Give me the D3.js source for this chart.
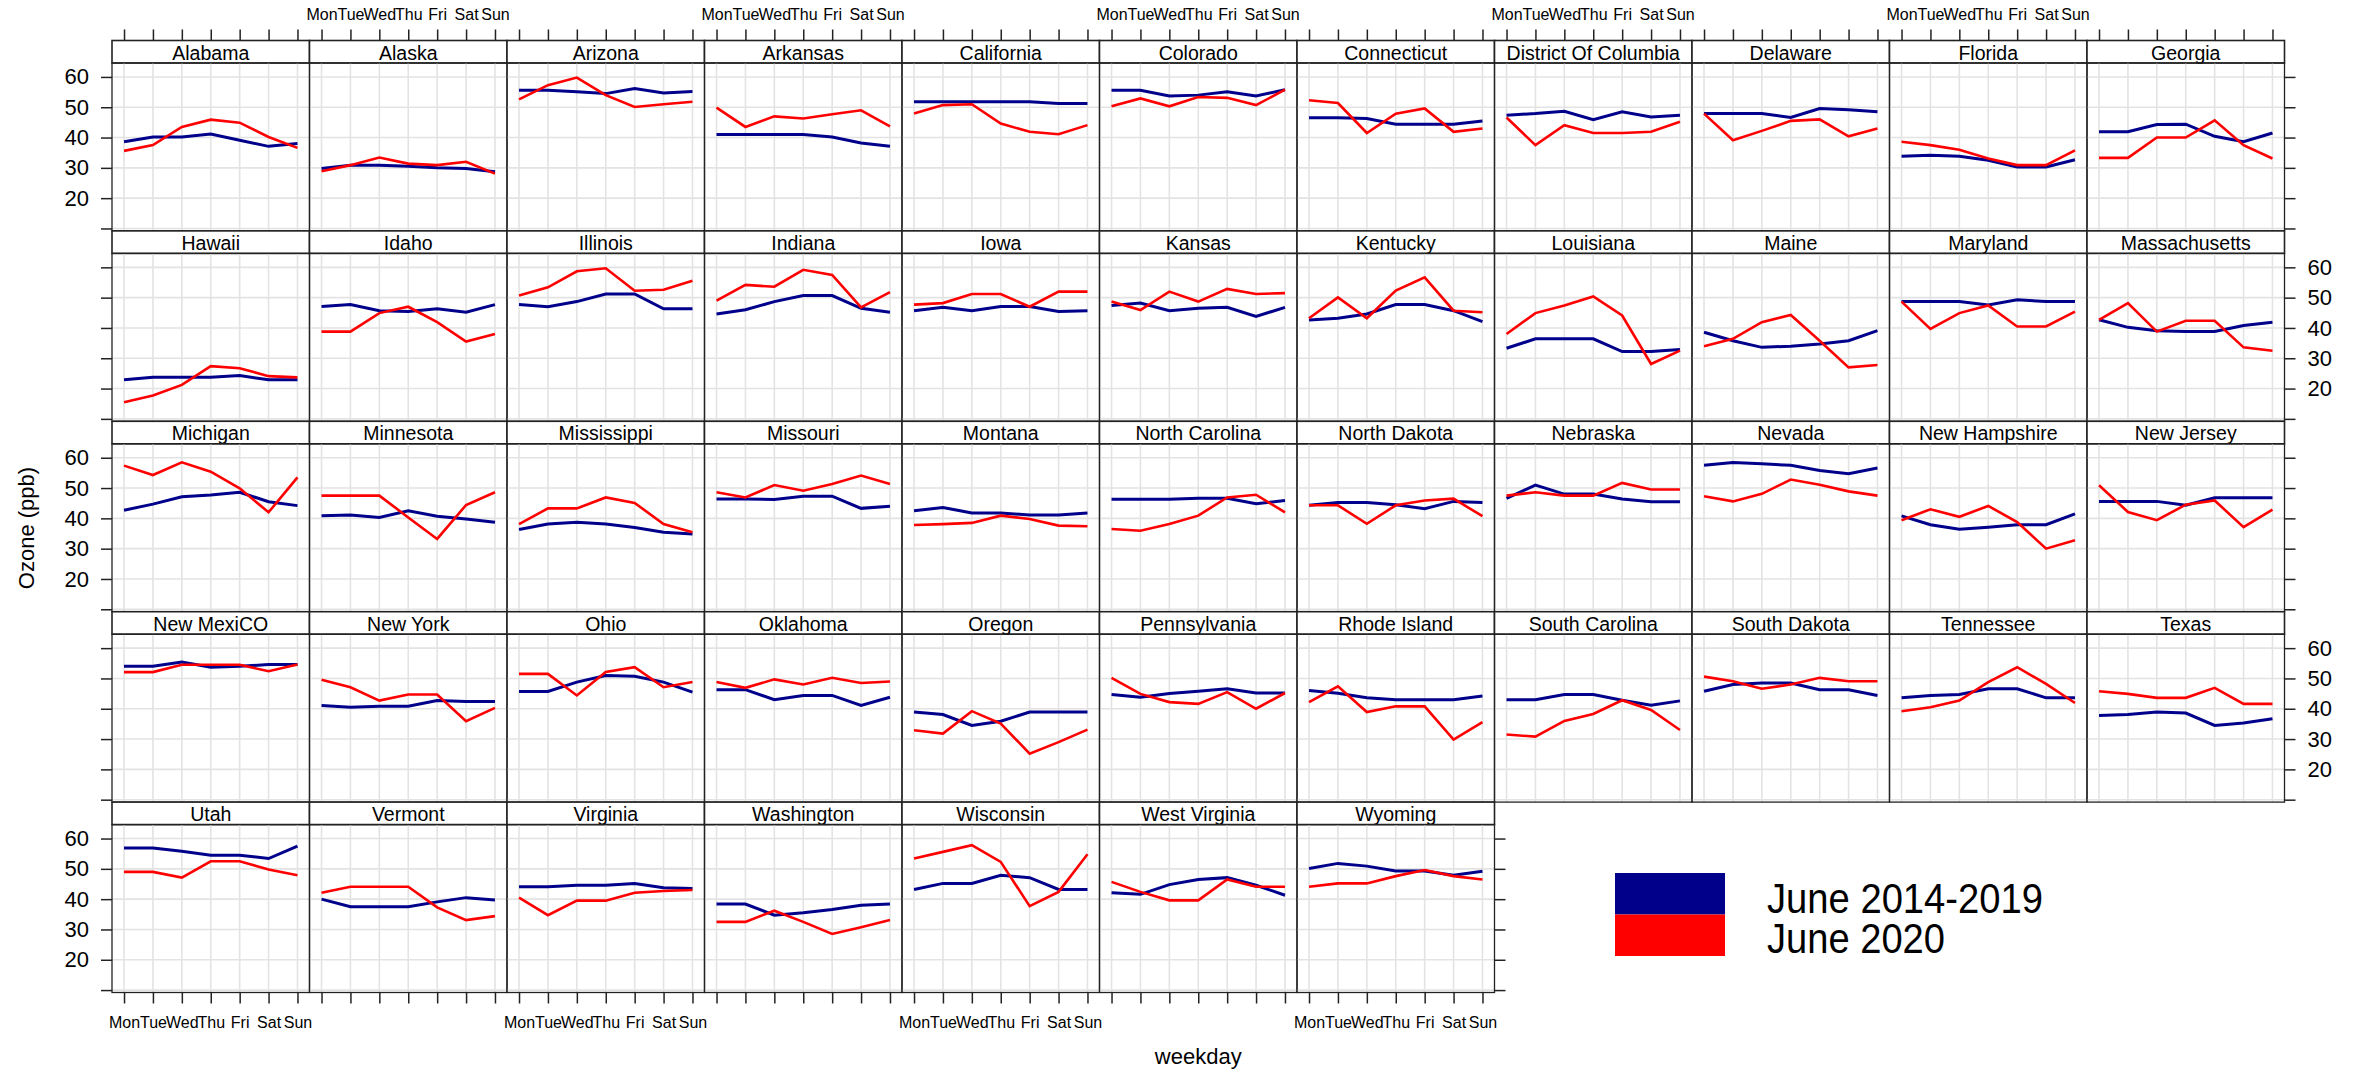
<!DOCTYPE html>
<html>
<head>
<meta charset="utf-8">
<script src="https://cdn.jsdelivr.net/npm/d3@7"></script>
<style>
body { margin: 0; background: #fff; }
text { font-family: "Liberation Sans", Arial, sans-serif; fill: #000; }
</style>
</head>
<body>
<div id="chart-area"></div>
<script>
var weekdays = ["Mon", "Tue", "Wed", "Thu", "Fri", "Sat", "Sun"];
var yTicks = [10, 20, 30, 40, 50, 60];
var seriesNames = ["June 2014-2019", "June 2020"];
var seriesColors = ["#00008B", "#FF0000"];

var states = ["Alabama","Alaska","Arizona","Arkansas","California","Colorado","Connecticut","District Of Columbia","Delaware","Florida","Georgia",
  "Hawaii","Idaho","Illinois","Indiana","Iowa","Kansas","Kentucky","Louisiana","Maine","Maryland","Massachusetts",
  "Michigan","Minnesota","Mississippi","Missouri","Montana","North Carolina","North Dakota","Nebraska","Nevada","New Hampshire","New Jersey",
  "New MexiCO","New York","Ohio","Oklahoma","Oregon","Pennsylvania","Rhode Island","South Carolina","South Dakota","Tennessee","Texas",
  "Utah","Vermont","Virginia","Washington","Wisconsin","West Virginia","Wyoming"];

// June 2014-2019 mean ozone by weekday
var june1419 = [
  [38.6,40.2,40.2,41.2,39.1,37.1,38.0],
  [29.8,30.9,30.9,30.5,30.0,29.8,28.7],
  [55.6,55.6,55.1,54.5,56.2,54.7,55.2],
  [41.0,41.0,41.0,41.0,40.2,38.2,37.1],
  [51.8,51.8,51.8,51.8,51.8,51.2,51.2],
  [55.6,55.6,53.7,54.0,55.1,53.7,55.8],
  [46.5,46.5,46.3,44.4,44.4,44.4,45.5],
  [47.4,47.9,48.7,45.9,48.5,46.8,47.4],
  [47.9,47.9,47.9,46.6,49.6,49.2,48.5],
  [33.8,34.2,33.8,32.5,30.3,30.3,32.7],
  [41.9,41.9,44.3,44.4,40.4,38.6,41.5],
  [22.9,23.7,23.7,23.7,24.3,22.9,22.9],
  [47.1,47.7,45.7,45.4,46.3,45.2,47.7],
  [47.7,47.0,48.7,51.2,51.2,46.3,46.3],
  [44.6,46.0,48.7,50.7,50.7,46.5,45.2],
  [45.7,46.8,45.7,47.1,47.1,45.4,45.7],
  [47.4,48.2,45.7,46.5,46.8,43.8,46.8],
  [42.6,43.2,44.6,47.7,47.7,45.7,42.1],
  [33.3,36.4,36.4,36.4,32.2,32.2,32.9],
  [38.6,35.8,33.6,34.0,34.7,35.8,39.1],
  [48.7,48.7,48.7,47.6,49.3,48.7,48.7],
  [42.7,40.2,39.1,38.8,38.8,40.8,41.9],
  [42.7,44.7,47.1,47.7,48.6,45.5,44.2],
  [40.9,41.1,40.3,42.5,40.7,39.8,38.7],
  [36.3,38.1,38.7,38.1,37.0,35.4,34.8],
  [46.4,46.4,46.2,47.3,47.3,43.3,44.0],
  [42.5,43.6,41.8,41.8,41.1,41.1,41.8],
  [46.3,46.3,46.3,46.6,46.6,44.8,45.9],
  [44.3,45.2,45.2,44.5,43.2,45.6,45.2],
  [46.6,51.0,48.0,48.0,46.4,45.5,45.5],
  [57.5,58.4,58.0,57.5,55.8,54.7,56.6],
  [40.8,37.9,36.4,37.1,37.9,37.9,41.5],
  [45.6,45.6,45.6,44.3,46.8,46.8,46.8],
  [54.0,54.0,55.4,53.7,54.0,54.6,54.6],
  [41.1,40.5,40.8,40.8,42.7,42.4,42.4],
  [45.7,45.7,48.8,51.0,50.7,48.8,45.5],
  [46.3,46.3,43.0,44.4,44.4,41.1,43.8],
  [38.9,38.1,34.5,35.9,38.9,38.9,38.9],
  [44.7,43.8,45.0,45.8,46.6,45.2,45.2],
  [46.0,45.1,43.6,43.0,43.0,43.0,44.2],
  [43.0,43.0,44.7,44.7,42.8,41.2,42.6],
  [45.8,48.0,48.5,48.5,46.3,46.3,44.4],
  [43.6,44.4,44.7,46.6,46.6,43.6,43.6],
  [37.8,38.1,38.9,38.6,34.5,35.3,36.7],
  [56.9,56.9,55.8,54.5,54.5,53.4,57.5],
  [40.0,37.5,37.5,37.5,39.1,40.5,39.7],
  [44.1,44.1,44.6,44.6,45.2,43.8,43.5],
  [38.4,38.4,34.7,35.5,36.6,38.0,38.4],
  [43.2,45.2,45.2,47.9,47.1,43.2,43.2],
  [42.1,41.6,44.8,46.5,47.1,44.6,41.3],
  [50.1,51.8,50.9,49.3,49.3,47.9,49.2]
];

// June 2020 mean ozone by weekday
var june2020 = [
  [35.6,37.5,43.5,45.9,44.9,40.2,36.6],
  [28.9,30.9,33.4,31.4,30.9,32.0,28.1],
  [52.6,57.3,59.8,54.0,50.1,51.0,51.8],
  [49.9,43.5,47.0,46.3,47.7,49.0,43.7],
  [47.9,50.7,51.0,44.6,41.9,41.1,44.1],
  [50.3,52.9,50.3,53.4,53.1,50.7,55.8],
  [52.3,51.4,41.5,47.9,49.6,41.9,43.0],
  [46.6,37.5,44.1,41.5,41.5,41.9,45.2],
  [47.9,39.1,42.2,45.5,46.0,40.4,43.0],
  [38.6,37.5,36.0,33.1,30.9,30.9,35.8],
  [33.3,33.3,40.0,40.0,45.7,37.5,33.1],
  [15.5,17.7,21.2,27.4,26.7,24.1,23.7],
  [38.8,38.8,44.9,47.0,41.9,35.5,38.0],
  [50.7,53.4,58.7,59.7,52.3,52.6,55.6],
  [49.0,54.2,53.6,59.2,57.5,46.8,51.8],
  [47.7,48.2,51.2,51.2,47.0,52.0,52.0],
  [48.7,45.9,52.0,48.7,52.9,51.2,51.5],
  [43.2,50.1,43.2,52.3,56.7,45.7,45.2],
  [38.0,44.9,47.4,50.4,44.1,28.1,32.5],
  [34.0,36.4,41.9,44.3,35.8,27.0,27.8],
  [48.7,39.7,44.9,47.4,40.5,40.5,45.4],
  [42.7,48.2,38.8,42.4,42.4,33.6,32.5],
  [57.4,54.3,58.5,55.4,49.9,42.0,53.5],
  [47.5,47.5,47.5,40.3,33.2,44.4,48.6],
  [38.1,43.3,43.3,46.9,45.1,38.1,35.4],
  [48.6,46.9,51.0,49.1,51.3,54.1,51.3],
  [37.8,38.1,38.5,40.9,39.8,37.6,37.4],
  [36.5,35.9,38.1,40.9,46.9,47.8,42.0],
  [44.3,44.3,38.2,44.3,45.9,46.5,40.7],
  [47.5,48.6,47.5,47.5,51.7,49.5,49.5],
  [47.3,45.6,48.1,52.8,51.1,48.9,47.5],
  [39.4,43.0,40.5,44.1,38.8,30.0,32.8],
  [50.9,42.1,39.4,44.5,45.9,37.1,42.9],
  [52.1,52.1,54.5,54.5,54.5,52.4,54.6],
  [49.6,47.1,42.7,44.7,44.7,35.9,40.3],
  [51.5,51.5,44.4,52.1,53.7,47.1,48.8],
  [48.8,46.9,49.7,48.0,50.2,48.5,49.0],
  [32.9,31.8,39.2,35.1,25.2,29.0,33.1],
  [50.2,44.9,42.2,41.6,45.5,40.0,45.2],
  [42.2,47.4,38.9,40.8,40.8,29.8,35.6],
  [31.5,30.8,36.0,38.3,42.8,39.6,33.0],
  [50.6,49.1,46.6,48.0,50.2,49.1,49.1],
  [39.2,40.5,42.7,48.8,53.7,48.2,41.9],
  [45.8,44.9,43.6,43.6,46.9,41.6,41.6],
  [49.0,49.0,47.1,52.5,52.5,49.8,47.9],
  [42.1,44.1,44.1,44.1,37.3,33.1,34.4],
  [40.5,34.7,39.5,39.5,42.1,42.7,43.0],
  [32.5,32.5,36.2,32.5,28.5,30.7,33.1],
  [53.4,55.6,57.8,52.3,37.7,42.4,54.8],
  [45.7,42.4,39.6,39.6,46.5,44.1,44.1],
  [44.1,45.2,45.2,47.6,49.6,47.6,46.5]
];

var width = 2354, height = 1073;
var nCols = 11, nRows = 5;
var left = 112, colW = 197.5;
var top0 = 40.5, rowH = 190.4, stripH = 22.5;
var plotH = rowH - stripH;
var tickLen = 11;

var svg = d3.select("#chart-area").append("svg")
    .attr("width", width)
    .attr("height", height);

var x = d3.scalePoint()
    .domain(weekdays)
    .range([0, colW])
    .padding(0.416);
var y = d3.scaleLinear()
    .domain([9.2, 64.6])
    .range([plotH, 0]);

var line = d3.line()
    .x((d, i) => x(weekdays[i]))
    .y(d => y(d));

var lastRow = Math.floor((states.length - 1) / nCols);

states.forEach((name, k) => {
  var col = k % nCols, row = Math.floor(k / nCols);
  var px = left + col * colW;
  var py = top0 + row * rowH;
  var g = svg.append("g").attr("transform", "translate(" + px + "," + py + ")");

  // strip
  g.append("rect")
      .attr("width", colW).attr("height", stripH)
      .attr("fill", "#fff").attr("stroke", "#222").attr("stroke-width", 1.6);
  g.append("text")
      .attr("x", colW / 2).attr("y", stripH - 3.5)
      .attr("text-anchor", "middle")
      .style("font-size", "19.5px")
      .text(name);

  var p = g.append("g").attr("transform", "translate(0," + stripH + ")");
  // grid
  p.selectAll(".gx").data(weekdays).enter().append("line")
      .attr("x1", d => x(d)).attr("x2", d => x(d))
      .attr("y1", 0).attr("y2", plotH)
      .attr("stroke", "#e3e3e3").attr("stroke-width", 1.6);
  p.selectAll(".gy").data(yTicks).enter().append("line")
      .attr("x1", 0).attr("x2", colW)
      .attr("y1", d => y(d)).attr("y2", d => y(d))
      .attr("stroke", "#e3e3e3").attr("stroke-width", 1.6);

  // series
  [june1419[k], june2020[k]].forEach((vals, s) => {
    p.append("path")
        .datum(vals)
        .attr("d", line)
        .attr("fill", "none")
        .attr("stroke", seriesColors[s])
        .attr("stroke-width", s === 0 ? 3 : 2.6);
  });

  p.append("rect")
      .attr("width", colW).attr("height", plotH)
      .attr("fill", "none").attr("stroke", "#222").attr("stroke-width", 1.3);

  // top axis on first row
  if (row === 0) {
    var ta = g.append("g").call(d3.axisTop(x).tickSize(tickLen).tickPadding(10)
        .tickFormat(col % 2 === 1 ? null : ""));
    styleAxis(ta, "16px");
  }
  // bottom axis on last row
  if (row === lastRow) {
    var ba = p.append("g").attr("transform", "translate(0," + plotH + ")")
        .call(d3.axisBottom(x).tickSize(tickLen).tickPadding(13)
        .tickFormat(col % 2 === 0 ? null : ""));
    styleAxis(ba, "16px");
  }
  // left axis
  if (col === 0) {
    var la = p.append("g").call(d3.axisLeft(y).tickValues(yTicks).tickSize(tickLen).tickPadding(12)
        .tickFormat(d => (row % 2 === 0 && d > 10) ? d : ""));
    styleAxis(la, "22px");
  }
  // right axis
  var isLastInRow = (col === nCols - 1) || (k === states.length - 1);
  if (isLastInRow) {
    var ra = p.append("g").attr("transform", "translate(" + colW + ",0)")
        .call(d3.axisRight(y).tickValues(yTicks).tickSize(tickLen).tickPadding(12)
        .tickFormat(d => (row % 2 === 1 && d > 10) ? d : ""));
    styleAxis(ra, "22px");
  }
});

function styleAxis(a, size) {
  a.select(".domain").remove();
  a.selectAll(".tick line").attr("stroke", "#222").attr("stroke-width", 1.5);
  a.selectAll(".tick text").style("font-size", size)
      .style("font-family", '"Liberation Sans", Arial, sans-serif').attr("fill", "#000");
}

// axis titles
var plotBottom = top0 + (lastRow + 1) * rowH;
svg.append("text")
    .attr("x", left + nCols * colW / 2)
    .attr("y", 1064)
    .attr("text-anchor", "middle")
    .style("font-size", "22px")
    .text("weekday");
svg.append("text")
    .attr("transform", "translate(34,528) rotate(-90)")
    .attr("text-anchor", "middle")
    .style("font-size", "22px")
    .text("Ozone (ppb)");

// legend
var legend = svg.append("g").attr("transform", "translate(1615,873)");
seriesNames.forEach((nm, i) => {
  legend.append("rect")
      .attr("x", 0).attr("y", i * 41.5)
      .attr("width", 110).attr("height", 41.5)
      .attr("fill", seriesColors[i]);
  legend.append("text")
      .attr("x", 152).attr("y", i * 40 + 40)
      .style("font-size", "42px")
      .attr("textLength", i === 0 ? 276 : 178)
      .attr("lengthAdjust", "spacingAndGlyphs")
      .text(nm);
});
</script>
</body>
</html>
